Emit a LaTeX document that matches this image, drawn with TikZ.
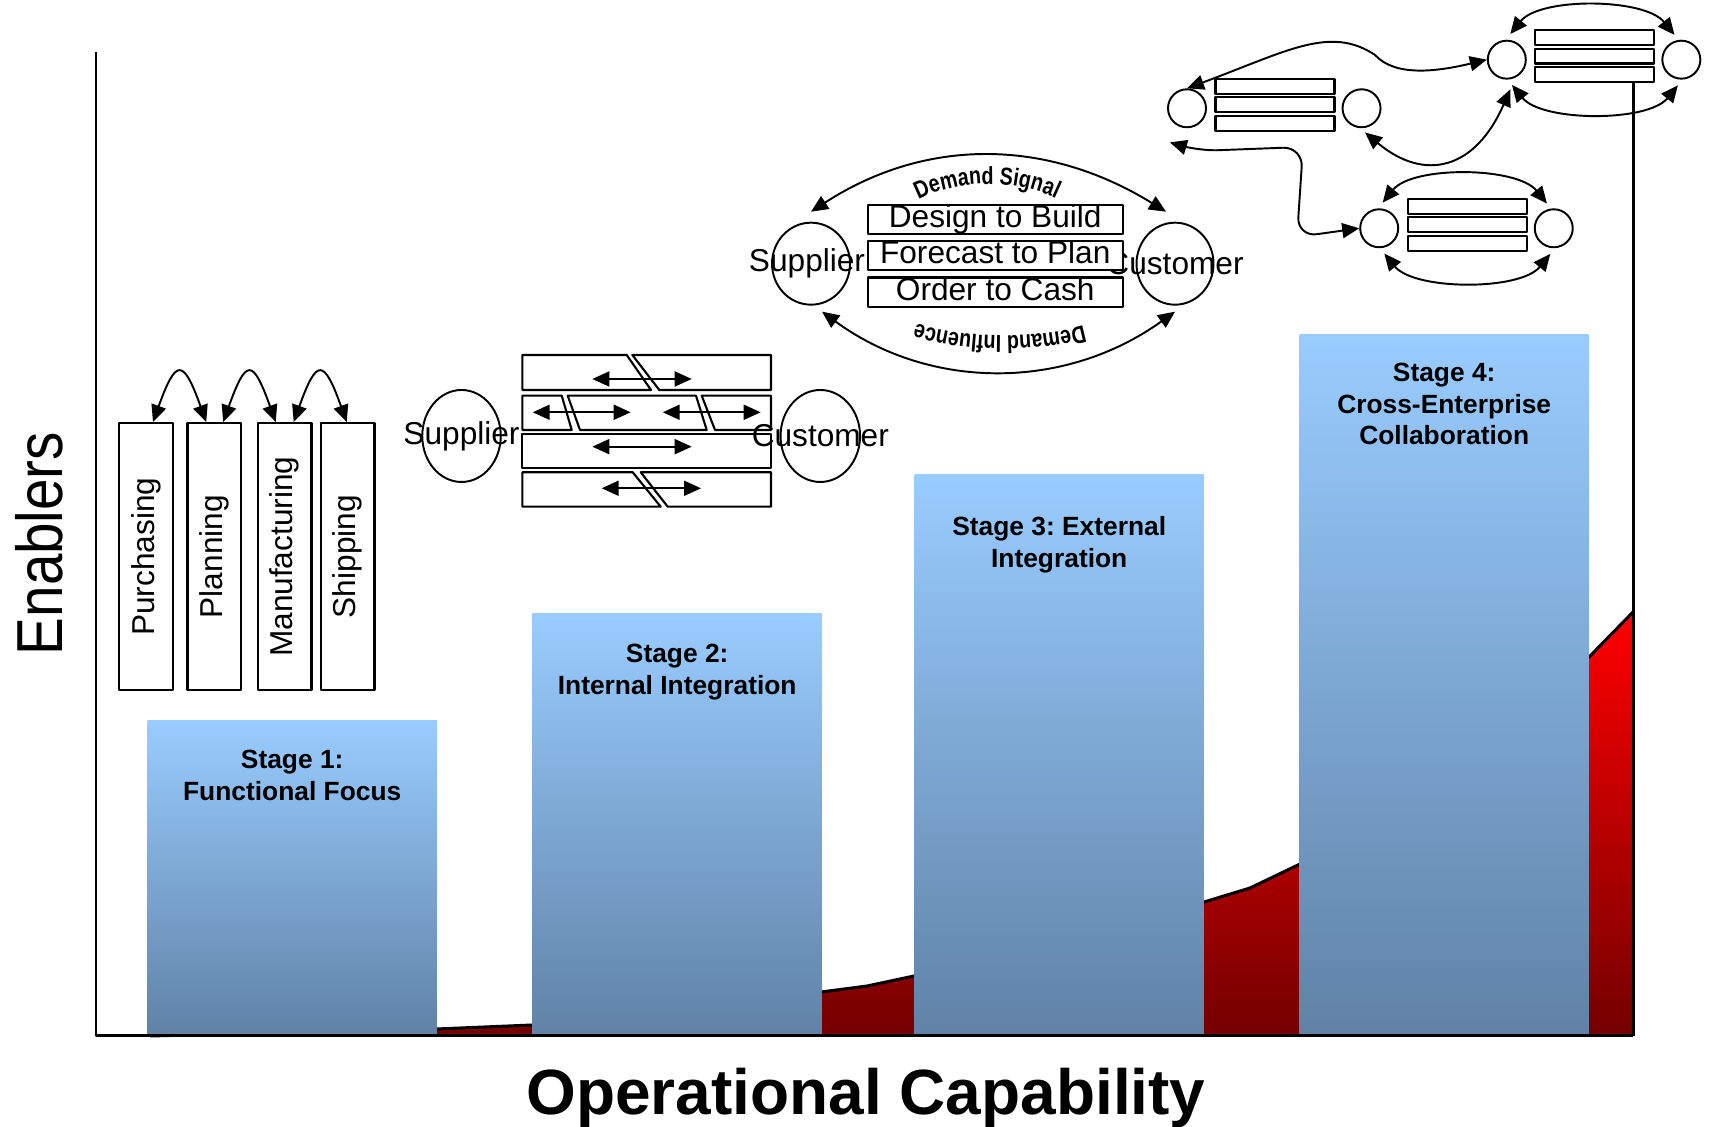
\documentclass[tikz,border=0pt]{standalone}
\usepackage{fontspec}
\setmainfont{Liberation Sans}
\newfontfamily\narrowsans[FakeStretch=0.8]{Liberation Sans}
\usepackage{graphicx}
\usepackage{tikz}
\usetikzlibrary{arrows.meta,positioning,calc,shapes.geometric,decorations.text}
\frenchspacing
\definecolor{sgtop}{RGB}{153,204,255}
\definecolor{sgbot}{RGB}{96,130,166}
\definecolor{caphi}{RGB}{255,0,0}
\definecolor{caplo}{RGB}{115,0,0}
\newcommand\arcfont{\narrowsans\bfseries\fontsize{7}{8}\selectfont}
\tikzset{
  stagebar/.style={
    inner sep=0pt, minimum width=28.9mm, anchor=south west,
    top color=sgtop, bottom color=sgbot
  },
  stagelbl/.style={
    font=\bfseries\fontsize{7.5}{9}\selectfont, align=center, inner sep=0pt
  },
  fnbox/.style={
    draw, line width=0.65pt, inner sep=0pt,
    minimum width=5.35mm, minimum height=26.7mm
  },
  hub/.style={draw, ellipse, line width=0.55pt, inner sep=0pt},
  hubdot/.style={hub, circle, minimum size=3.8mm},
  procbox/.style={
    draw, fill=white, line width=0.6pt, inner sep=0pt,
    text height=2.25mm, text depth=0.68mm,
    minimum width=25.5mm, minimum height=2.95mm
  },
  lane/.style={
    draw, line width=0.6pt, inner sep=0pt,
    minimum width=11.9mm, minimum height=1.47mm
  },
  band/.style={draw, line width=0.6pt},
  arr2/.style={<->, >={Triangle[length=1.7mm,width=1.5mm]}, line width=0.55pt},
  axisline/.style={draw=black, line width=0.85pt},
  every picture/.append style={font=\fontsize{9}{10.8}\selectfont, line join=round}
}

\begin{document}
\begin{tikzpicture}[x=1cm,y=1cm]
  \useasboundingbox (0,0) rectangle (17.13,11.27);

  % capability curve, mostly hidden behind the bars
  \shade[top color=caphi, bottom color=caplo]
    (1.50,0.91) -- (4.36,0.98) -- (5.32,1.02) -- (8.21,1.35) -- (8.67,1.41)
    -- (9.14,1.51) -- (12.04,2.25) -- (12.50,2.39) -- (13.00,2.63)
    -- (15.89,4.70) -- (16.33,5.15) -- (16.33,0.91) -- cycle;
  \draw[line width=0.85pt]
    (1.50,0.91) -- (4.36,0.98) -- (5.32,1.02) -- (8.21,1.35) -- (8.67,1.41)
    -- (9.14,1.51) -- (12.04,2.25) -- (12.50,2.39) -- (13.00,2.63)
    -- (15.89,4.70) -- (16.33,5.15);

  % stage bars
  \node[stagebar, minimum height=31.5mm] (s1) at (1.47,0.91) {};
  \node[stagebar, minimum height=42.2mm] (s2) at (5.32,0.91) {};
  \node[stagebar, minimum height=56.1mm] (s3) at (9.14,0.91) {};
  \node[stagebar, minimum height=70.1mm] (s4) at (12.99,0.91) {};
  \node[stagelbl, below=3mm of s1.north] (s1lbl) {Stage 1:\\Functional Focus};
  \node[stagelbl, below=3.1mm of s2.north] (s2lbl) {Stage 2:\\Internal Integration};
  \node[stagelbl, below=4.2mm of s3.north] (s3lbl) {Stage 3: External\\Integration};
  \node[stagelbl, below=2.9mm of s4.north] (s4lbl) {Stage 4:\\Cross-Enterprise\\Collaboration};

  % stage 1: functional silos
  \node[fnbox] (purch) at (1.46,5.703) {\rotatebox{90}{Purchasing}};
  \node[fnbox] (plan) at (2.142,5.703) {\rotatebox{90}{Planning}};
  \node[fnbox] (manuf) at (2.847,5.703) {\rotatebox{90}{Manufacturing}};
  \node[fnbox] (ship) at (3.477,5.703) {\rotatebox{90}{Shipping}};
  \draw[arr2] ([xshift=0.7mm]purch.north) .. controls +(0.23,0.64) and +(-0.23,0.64) .. ([xshift=-0.8mm]plan.north);
  \draw[arr2] ([xshift=0.9mm]plan.north) .. controls +(0.23,0.64) and +(-0.23,0.64) .. ([xshift=-0.9mm]manuf.north);
  \draw[arr2] ([xshift=0.9mm]manuf.north) .. controls +(0.23,0.64) and +(-0.23,0.64) .. ([xshift=-0.1mm]ship.north);

  % stage 2: supplier and customer around the process bands
  \node[hub, minimum width=7.85mm, minimum height=9.2mm, label=center:Supplier] (sup2) at (4.615,6.91) {};
  \node[hub, minimum width=7.95mm, minimum height=9.2mm, label=center:Customer] (cus2) at (8.203,6.91) {};
  \draw[band] (5.223,7.37) -- (5.223,7.72) -- (6.267,7.72) -- (6.51,7.37) -- cycle;
  \draw[band] (6.323,7.72) -- (7.71,7.72) -- (7.71,7.37) -- (6.593,7.37) -- cycle;
  \draw[band] (5.223,6.97) -- (5.223,7.313) -- (5.617,7.313) -- (5.717,6.97) -- cycle;
  \draw[band] (5.677,7.313) -- (6.96,7.313) -- (7.067,6.97) -- (5.80,6.97) -- cycle;
  \draw[band] (7.017,7.313) -- (7.71,7.313) -- (7.71,6.97) -- (7.15,6.97) -- cycle;
  \draw[band] (5.223,6.593) rectangle (7.71,6.927);
  \draw[band] (5.223,6.203) -- (5.223,6.547) -- (6.327,6.547) -- (6.607,6.203) -- cycle;
  \draw[band] (6.407,6.547) -- (7.71,6.547) -- (7.71,6.203) -- (6.677,6.203) -- cycle;
  \foreach \a/\b/\y in {5.923/6.917/7.48, 5.327/6.307/7.147, 6.627/7.607/7.147,
                        5.923/6.917/6.803, 6.017/7.01/6.387}
    \draw[arr2] (\a,\y) -- (\b,\y);

  % stage 3: demand loop between supplier and customer
  \node[hub, minimum width=7.8mm, minimum height=8.2mm, label={[xshift=-0.4mm]center:Supplier}] (sup3) at (8.11,8.633) {};
  \node[hub, minimum width=7.7mm, minimum height=8.2mm, label=center:Customer] (cus3) at (11.75,8.633) {};
  \node[procbox] (p2) at (9.952,8.713) {Forecast to Plan};
  \node[procbox, above=0.47mm of p2] (p1) {Design to Build};
  \node[procbox, below=0.5mm of p2] (p3) {Order to Cash};
  \draw[arr2] ([yshift=1mm]sup3.north) .. controls +(1.14,0.74) and +(-1.2,0.74) .. ([xshift=-0.9mm,yshift=1mm]cus3.north);
  \draw[arr2] ([xshift=1.1mm,yshift=-0.6mm]sup3.south) .. controls +(1.08,-0.79) and +(-1.1,-0.79) .. ([yshift=-0.6mm]cus3.south);
  \path[decorate, decoration={text along path, text align=center,
      text={|\arcfont|Demand Signal}}]
    (9.0,9.15) .. controls (9.45,9.52) and (10.3,9.52) .. (10.75,9.17);
  \path[decorate, decoration={text along path, text align=center,
      text={|\arcfont|Demand Influence}}]
    (11.05,8.08) .. controls (10.45,7.85) and (9.55,7.85) .. (8.95,8.11);

  % stage 4: three linked supplier-customer units
  \foreach \g/\x/\y in {L/12.75/10.222, R/15.948/10.708, B/14.672/9.022} {
    \node[lane] (\g-2) at (\x,\y) {};
    \node[lane, above=0.17mm of \g-2] (\g-1) {};
    \node[lane, below=0.17mm of \g-2] (\g-3) {};
    \node[hubdot, left=0.75mm of \g-2, yshift=-0.35mm] (\g-lc) {};
    \node[hubdot, right=0.6mm of \g-2, yshift=-0.35mm] (\g-rc) {};
  }
  \foreach \g in {R,B} {
    \draw[arr2] ([yshift=0.6mm]\g-lc.80) .. controls +(0.3,0.37) and +(-0.3,0.37) .. ([yshift=0.6mm]\g-rc.110);
    \draw[arr2] ([yshift=-0.6mm]\g-lc.-75) .. controls +(0.3,-0.37) and +(-0.3,-0.37) .. ([yshift=-0.6mm]\g-rc.-100);
  }
  \draw[arr2] (L-lc.north) .. controls +(1.0,0.37) and +(-0.45,0.3) .. (13.75,10.72)
    .. controls +(0.2,-0.22) and +(-0.5,-0.12) .. (R-lc.west);
  \draw[arr2] ([yshift=-0.45mm]L-rc.-80) .. controls +(0.6,-0.5) and +(-0.35,-0.8) .. ([yshift=-1mm]R-lc.-80);
  \draw[arr2, rounded corners=2mm] ([xshift=-0.3mm,yshift=-2mm]L-lc.south west)
    -- (11.98,9.76) -- (13.03,9.80) -- (12.97,8.90) -- (B-lc.west);

  % axes
  \coordinate (o) at (0.96,0.91);
  \coordinate (ytop) at (0.96,10.75);
  \coordinate (xend) at (16.33,0.91);
  \draw[axisline] (ytop) -- (o) -- (xend);
  \draw[axisline] (xend |- R-3.south) -- (xend);
  \node[font=\fontsize{18.5}{20}\selectfont, rotate=90] (ylbl) at (0.39,5.835) {\scalebox{0.87}[1]{Enablers}};
  \node[font=\bfseries\fontsize{18.2}{20}\selectfont, anchor=base] (xlbl) at (8.66,0.12) {Operational Capability};
\end{tikzpicture}
\end{document}
